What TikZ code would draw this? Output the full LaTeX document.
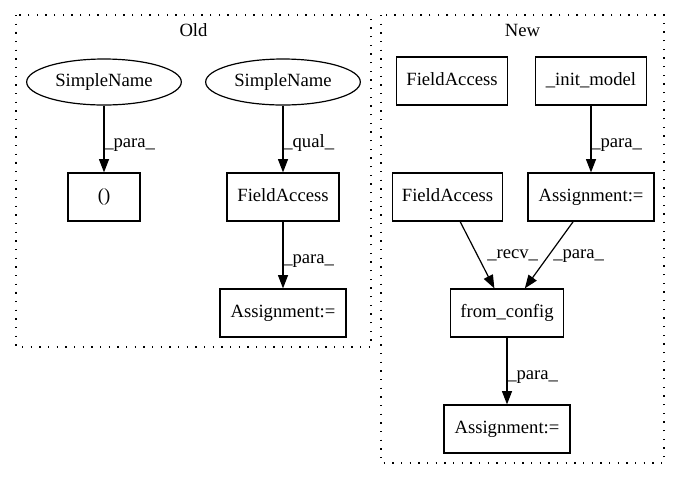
\documentclass[tikz,border=0pt]{standalone}
\usepackage{fontspec}
\setmainfont{Liberation Serif}
\usetikzlibrary{arrows.meta,shapes.geometric}
\begin{document}
\begin{tikzpicture}[x=0.75pt,y=-0.75pt,
  every node/.style={font=\fontsize{14}{16}\selectfont},
  box/.style={draw,rectangle,line width=0.9pt,minimum height=36pt,inner sep=0pt,text height=10pt,text depth=3pt},
  oval/.style={draw,ellipse,line width=0.9pt,minimum width=116pt,minimum height=34.5pt,inner sep=0pt,text height=10pt,text depth=3pt},
  edge/.style={draw,line width=0.9pt,-{Triangle[length=10pt,width=7.5pt]}},
  elabel/.style={anchor=base west,inner sep=0pt},
  ctitle/.style={anchor=base,inner sep=0pt},
  cluster/.style={draw,line width=0.9pt,dash pattern=on 1pt off 5.5pt}]
\useasboundingbox (0,0) rectangle (680,480);
% clusters
\draw[cluster] (16,15) rectangle (371,347);
\draw[cluster] (381,15) rectangle (664,463);
\node[ctitle] (told) at (193.5,36) {Old};
\node[ctitle] (tnew) at (522.5,36) {New};
% Old nodes
\node[oval] (sn1) at (104,82) {SimpleName};
\node[oval] (sn2) at (283,82) {SimpleName};
\node[box,minimum width=54pt] (paren) at (104,197) {()};
\node[box,minimum width=84pt] (faold) at (283,197) {FieldAccess};
\node[box,minimum width=94.5pt] (asold) at (283,313) {Assignment:=};
% New nodes
\node[box,minimum width=83pt] (fanew1) at (452,81) {FieldAccess};
\node[box,minimum width=83.5pt] (init) at (591,81) {\_init\_model};
\node[box,minimum width=83pt] (fanew2) at (447.5,197) {FieldAccess};
\node[box,minimum width=94.5pt] (asnew1) at (591,197) {Assignment:=};
\node[box,minimum width=85pt] (fromc) at (507,313) {from\_config};
\node[box,minimum width=94.5pt] (asnew2) at (507,429) {Assignment:=};
% edges
\draw[edge] (sn1) -- (paren);
\draw[edge] (sn2) -- (faold);
\draw[edge] (faold) -- (asold);
\draw[edge] (init) -- (asnew1);
\draw[edge] (fanew2) -- (fromc);
\draw[edge] (asnew1) -- (fromc);
\draw[edge] (fromc) -- (asnew2);
% edge labels
\node[elabel] (l1) at (104,147) {\_para\_};
\node[elabel] (l2) at (283,147) {\_qual\_};
\node[elabel] (l3) at (283,263) {\_para\_};
\node[elabel] (l4) at (591,147) {\_para\_};
\node[elabel] (l5) at (487,258) {\_recv\_};
\node[elabel] (l6) at (553,258) {\_para\_};
\node[elabel] (l7) at (507,379) {\_para\_};
\end{tikzpicture}
\end{document}
